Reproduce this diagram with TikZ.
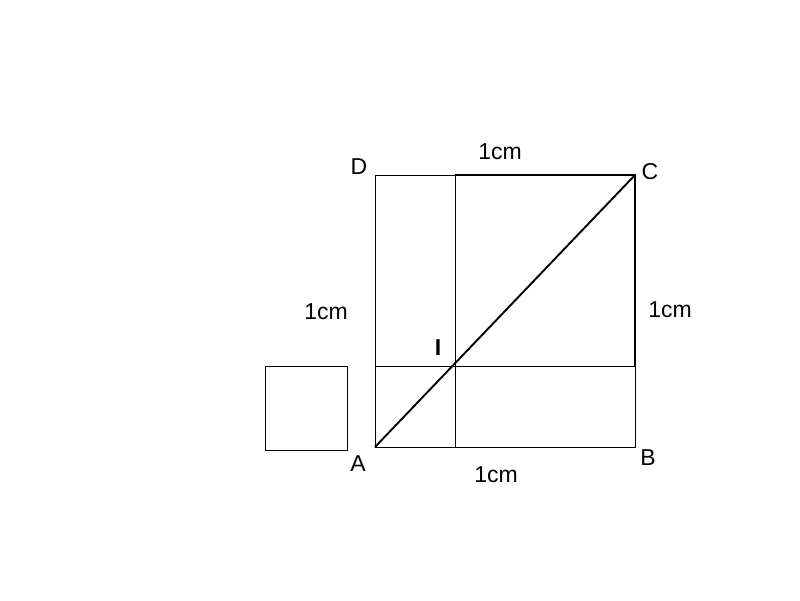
\documentclass[tikz,border=0pt]{standalone}
\usepackage{fontspec}
\setmainfont{Liberation Sans}
\begin{document}
\begin{tikzpicture}[x=1pt,y=-1pt,
  thinline/.style={line width=0.9pt,black},
  thickline/.style={line width=1.9pt,black},
  lbl/.style={font=\fontsize{23}{26}\selectfont,inner sep=0pt}]
\useasboundingbox[fill=white] (0,0) rectangle (800,600);
\coordinate (A) at (375,447);
\coordinate (B) at (635,447);
\coordinate (C) at (635,175);
\coordinate (D) at (375,175);
\coordinate (I) at (455,366);
\coordinate (T) at (455,175);
\coordinate (Bm) at (455,447);
\coordinate (L) at (375,366);
\coordinate (R) at (635,366);
% thin lines
\draw[thinline] (D) -- (T);
\draw[thinline] (D) -- (A) -- (B) -- (R);
\draw[thinline] (T) -- (Bm);
\draw[thinline] (L) -- (R);
% thick lines
\draw[thickline] (T) -- (C) -- (R);
\draw[thickline] (A) -- (C);
% small square
\draw[thinline] (265,366) rectangle (347,450);
% labels
\node[lbl] (lD) at (359,167) {D};
\node[lbl] (lC) at (650,172) {C};
\node[lbl] (lA) at (358,464) {A};
\node[lbl] (lB) at (648,458) {B};
\node[lbl,font=\fontsize{23}{26}\selectfont\bfseries] (lI) at (438,348) {I};
\node[lbl] (t1) at (500,152) {1cm};
\node[lbl] (t2) at (326,312) {1cm};
\node[lbl] (t3) at (670,310) {1cm};
\node[lbl] (t4) at (496,475) {1cm};
\end{tikzpicture}
\end{document}
